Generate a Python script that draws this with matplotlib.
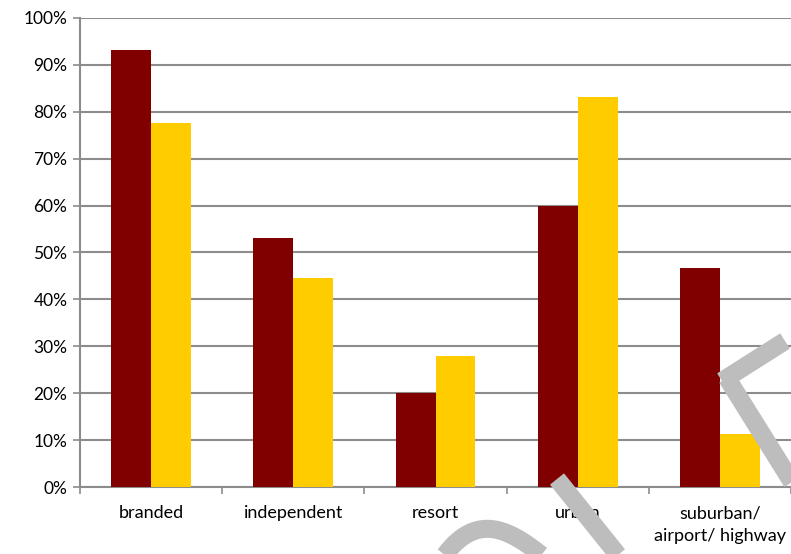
import numpy as np
import matplotlib
matplotlib.use("Agg")
import matplotlib.pyplot as plt
from matplotlib.lines import Line2D
from matplotlib.ticker import PercentFormatter

plt.rcParams['font.family'] = ['Lato', 'DejaVu Sans']

# data
categories = ["branded", "independent", "resort", "urban", "suburban/\nairport/ highway"]
series_a = [93.2, 53.1, 20.0, 59.9, 46.7]
series_b = [77.6, 44.6, 27.9, 83.2, 11.3]

fig = plt.figure(figsize=(7.91, 5.54), dpi=100)
ax = fig.add_axes([80/791, 1-487/554, 1-80/791, (487-18)/554])

x = np.arange(len(categories))
w = 0.28
ax.bar(x - w/2, series_a, w, color="#800000", zorder=3)
ax.bar(x + w/2, series_b, w, color="#ffcc00", zorder=3)

ax.set_xlim(-0.5, len(categories) - 0.5)
ax.set_ylim(0, 100)
ax.set_yticks(np.arange(0, 101, 10))
ax.yaxis.set_major_formatter(PercentFormatter(decimals=0))
ax.yaxis.grid(True, color="#8c8c8c", linewidth=1.5, zorder=0)

ax.set_xticks(x)
ax.set_xticklabels(categories, linespacing=1.55)
ax.set_xticks(np.arange(-0.5, len(categories)), minor=True)
ax.tick_params(axis="x", which="major", length=0, pad=13, labelsize=13)
ax.tick_params(axis="x", which="minor", length=5, color="#8c8c8c", width=1.2)
ax.tick_params(axis="y", length=5, color="#8c8c8c", width=1.2, pad=4, labelsize=12.5)

for s in ["top", "right"]:
    ax.spines[s].set_visible(False)
for s in ["left", "bottom"]:
    ax.spines[s].set_color("#8c8c8c")
    ax.spines[s].set_linewidth(1.5)

# grey watermark strokes over the lower right corner
def px(pts):
    return [p[0] / 791 for p in pts], [1 - p[1] / 554 for p in pts]

gray = "#bdbdbd"
for pts in ([(557, 479), (622, 560)],
            [(722, 381), (785, 341)],
            [(727, 378), (800, 495)]):
    xs, ys = px(pts)
    fig.add_artist(Line2D(xs, ys, color=gray, linewidth=13, solid_capstyle="butt", zorder=10))

t = np.linspace(0, 1, 30)
arc = [(440 + 110 * s, 562 - 130 * s * (1 - s) * (1.3 - 0.6 * s)) for s in t]
xs, ys = px(arc)
fig.add_artist(Line2D(xs, ys, color=gray, linewidth=13, solid_capstyle="butt", zorder=10))

fig.savefig("out.png", dpi=100)
